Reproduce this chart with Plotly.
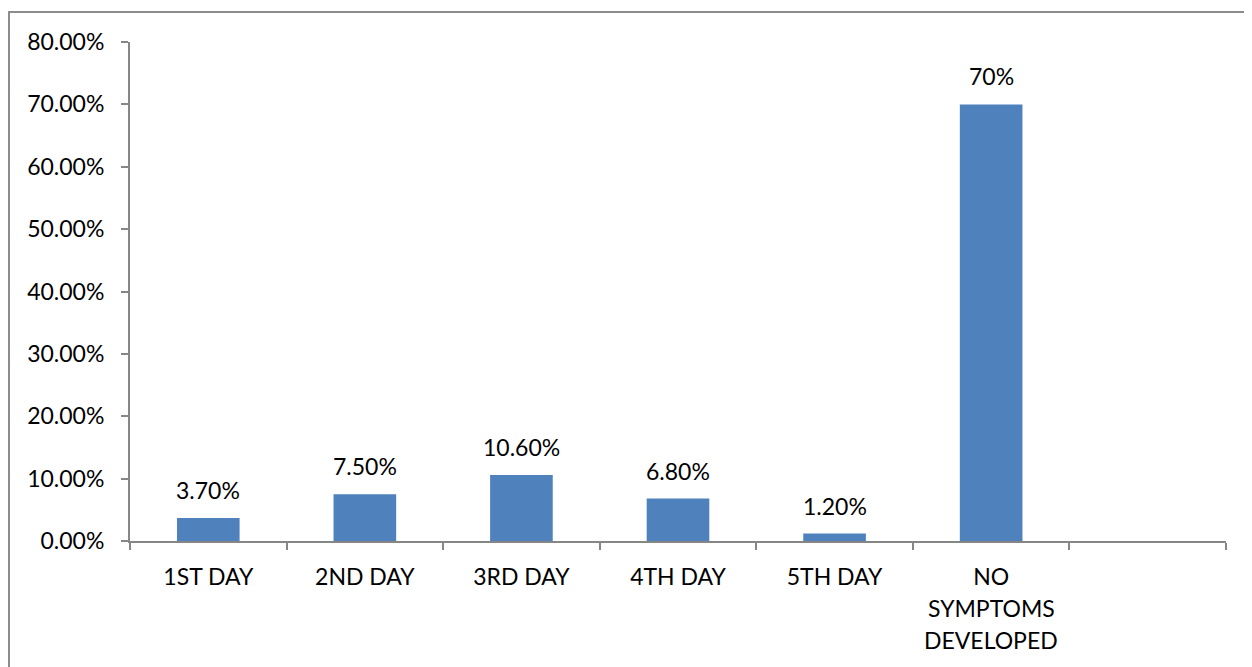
import plotly.graph_objects as go

categories = ["1ST DAY", "2ND DAY", "3RD DAY", "4TH DAY", "5TH DAY", "NO SYMPTOMS DEVELOPED", " "]
category_lines = [["1ST DAY"], ["2ND DAY"], ["3RD DAY"], ["4TH DAY"], ["5TH DAY"],
                  ["NO", "SYMPTOMS", "DEVELOPED"], [""]]
values = [0.037, 0.075, 0.106, 0.068, 0.012, 0.70, None]
value_labels = ["3.70%", "7.50%", "10.60%", "6.80%", "1.20%", "70%", ""]

FONT = "Lato"
FS = 23
OFF = 8  # page body margin
W, H = 1252 - OFF, 667 - OFF
ML, MR, MT, MB = 130 - OFF, 26, 42 - OFF, 126
PW, PH = W - ML - MR, H - MT - MB

fig = go.Figure()
fig.add_trace(go.Bar(
    x=categories, y=values,
    marker=dict(color="#4F81BD", line=dict(width=0)),
    hoverinfo="skip",
))

annotations = []
for c, v, t in zip(categories, values, value_labels):
    if v is None:
        continue
    annotations.append(dict(
        x=c, y=v, xref="x", yref="y", text=t, showarrow=False,
        yanchor="bottom", yshift=12,
        font=dict(family=FONT, size=FS, color="#000000"),
    ))
# continuation lines of multi-line category labels (Excel-style line spacing)
for c, lines in zip(categories, category_lines):
    for i, ln in enumerate(lines[1:], start=1):
        annotations.append(dict(
            x=c, y=0, xref="x", yref="y", text=ln, showarrow=False,
            yanchor="middle", yshift=-35 - 32 * i,
            font=dict(family=FONT, size=FS, color="#000000"),
        ))

def px_x(px):
    return (px - OFF - ML) / PW

def px_y(py):
    return (H - MB - (py - OFF)) / PH

fig.update_layout(
    width=W, height=H, autosize=False,
    margin=dict(l=ML, r=MR, t=MT, b=MB),
    paper_bgcolor="white", plot_bgcolor="white",
    bargap=0.6,
    showlegend=False,
    font=dict(family=FONT, size=FS, color="#000000"),
    annotations=annotations,
    shapes=[dict(
        type="rect", xref="paper", yref="paper",
        x0=px_x(9), x1=px_x(1320), y0=px_y(740), y1=px_y(12),
        line=dict(color="#8C8C8C", width=2), fillcolor="rgba(0,0,0,0)",
        layer="below",
    )],
    xaxis=dict(
        type="category",
        categoryorder="array", categoryarray=categories,
        tickmode="array", tickvals=categories,
        ticktext=[lines[0] for lines in category_lines],
        range=[-0.5, 6.5],
        showline=True, linecolor="#868686", linewidth=2,
        ticks="outside", ticklen=7, tickwidth=2, tickcolor="#868686",
        tickson="boundaries",
        showgrid=False, zeroline=False,
        tickfont=dict(family=FONT, size=FS, color="#000000"),
        ticklabelstandoff=14,
    ),
    yaxis=dict(
        range=[0, 0.8], dtick=0.1, tick0=0,
        tickformat=".2%",
        showline=True, linecolor="#868686", linewidth=2,
        ticks="outside", ticklen=7, tickwidth=2, tickcolor="#868686",
        showgrid=False, zeroline=False,
        tickfont=dict(family=FONT, size=FS, color="#000000"),
        ticklabelstandoff=12,
    ),
)

fig.write_html("out.html")
